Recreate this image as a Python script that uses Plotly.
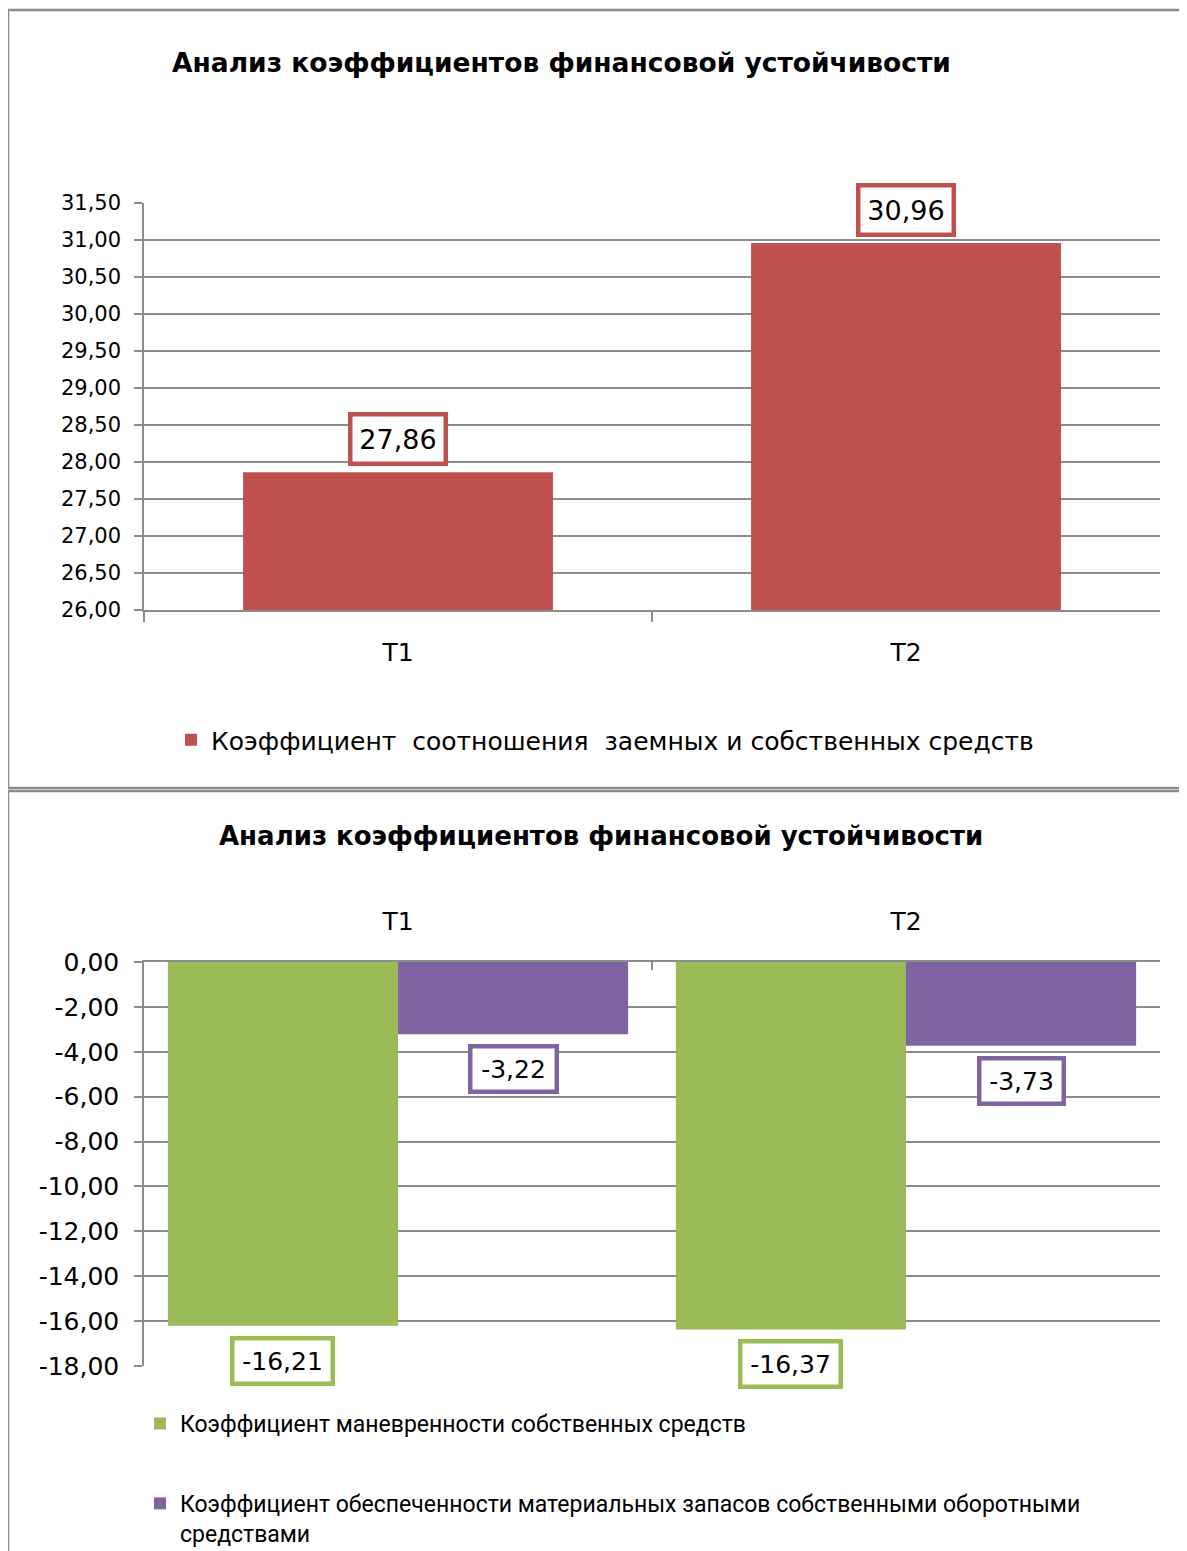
import plotly.graph_objects as go

W, H = 1187, 1551

# ── Data ──────────────────────────────────────────────────────────────────────
CATEGORIES = ["Т1", "Т2"]

TITLE = "Анализ коэффициентов финансовой устойчивости"

TOP_NAME = "Коэффициент\u00a0 соотношения\u00a0 заемных и собственных средств"
TOP_VALUES = [27.86, 30.96]
TOP_TICKVALS = [26.0, 26.5, 27.0, 27.5, 28.0, 28.5, 29.0, 29.5, 30.0, 30.5, 31.0, 31.5]
TOP_TICKTEXT = ["26,00", "26,50", "27,00", "27,50", "28,00", "28,50",
                "29,00", "29,50", "30,00", "30,50", "31,00", "31,50"]

BOT_NAME_1 = "Коэффициент маневренности собственных средств"
BOT_VALUES_1 = [-16.21, -16.37]
BOT_NAME_2 = ("Коэффициент обеспеченности материальных запасов собственными оборотными"
              "<br>средствами")
BOT_VALUES_2 = [-3.22, -3.73]
BOT_TICKVALS = [0, -2, -4, -6, -8, -10, -12, -14, -16, -18]
BOT_TICKTEXT = ["0,00", "-2,00", "-4,00", "-6,00", "-8,00", "-10,00",
                "-12,00", "-14,00", "-16,00", "-18,00"]

# ── Colours ───────────────────────────────────────────────────────────────────
C_RED = "#C0504D"
C_GREEN = "#9BBB59"
C_PURPLE = "#8064A2"
C_GRID = "#8C8C8C"
C_FRAME = "#8C8C8C"
FONT = "DejaVu Sans"

OFF = 8  # page body margin


def fmt(v):
    return f"{v:.2f}".replace(".", ",")


def px(x):
    return (x - OFF) / W


def py(y):
    return 1 - (y - OFF) / H


PLOT_L, PLOT_R = 144, 1160
BOT_GAP = 0.094
bar_px = (PLOT_R - PLOT_L) / 2 * (1 - BOT_GAP) / 2

fig = go.Figure()

fig.add_trace(go.Bar(
    x=CATEGORIES, y=TOP_VALUES, name=TOP_NAME, width=0.61,
    marker=dict(color=C_RED, line_width=0),
    xaxis="x", yaxis="y", legend="legend", showlegend=True,
))
fig.add_trace(go.Bar(
    x=CATEGORIES, y=BOT_VALUES_1, name=BOT_NAME_1,
    marker=dict(color=C_GREEN, line_width=0),
    xaxis="x2", yaxis="y2", legend="legend2", legendgroup="a", showlegend=True,
))
fig.add_trace(go.Bar(
    x=CATEGORIES, y=BOT_VALUES_2, name=BOT_NAME_2,
    marker=dict(color=C_PURPLE, line_width=0),
    xaxis="x2", yaxis="y2", legend="legend2", legendgroup="b", showlegend=True,
))

ann = []
# titles
ann.append(dict(text="<b>" + TITLE + "</b>", xref="paper", yref="paper",
                x=px(561), y=py(62), xanchor="center", yanchor="middle",
                showarrow=False, font=dict(family=FONT, size=26.5, color="black")))
ann.append(dict(text="<b>" + TITLE + "</b>", xref="paper", yref="paper",
                x=px(601), y=py(836), xanchor="center", yanchor="middle",
                showarrow=False, font=dict(family=FONT, size=26, color="black")))

# data labels, top chart
for c, v in zip(CATEGORIES, TOP_VALUES):
    ann.append(dict(text=fmt(v), x=c, y=v, xref="x", yref="y",
                    yanchor="bottom", yshift=6, showarrow=False, width=77,
                    font=dict(family=FONT, size=27, color="black"),
                    bgcolor="white", bordercolor=C_RED, borderwidth=4.5, borderpad=7))

# data labels, bottom chart
for vals, color, sign, widths in [(BOT_VALUES_1, C_GREEN, -1, [84, 84]),
                                  (BOT_VALUES_2, C_PURPLE, 1, [70, 68])]:
    for c, v, w in zip(CATEGORIES, vals, widths):
        ann.append(dict(text=fmt(v), x=c, y=v, xref="x2", yref="y2",
                        xshift=sign * bar_px / 2, yanchor="top", yshift=-10,
                        showarrow=False, width=w,
                        font=dict(family=FONT, size=25, color="black"),
                        bgcolor="white", bordercolor=color, borderwidth=4.5, borderpad=6))

shapes = [
    dict(type="rect", xref="paper", yref="paper",
         x0=px(8), x1=px(1210), y0=py(10), y1=py(788),
         line=dict(color=C_FRAME, width=2.5), layer="below"),
    dict(type="rect", xref="paper", yref="paper",
         x0=px(8), x1=px(1210), y0=py(791), y1=py(1580),
         line=dict(color=C_FRAME, width=2.5), layer="below"),
]

axis_common = dict(showline=True, linecolor=C_GRID, linewidth=1.5,
                   tickcolor=C_GRID, tickwidth=1.5)

fig.update_layout(
    width=W, height=H,
    margin=dict(l=0, r=0, t=0, b=0, autoexpand=False),
    paper_bgcolor="white", plot_bgcolor="white",
    barmode="group", bargap=BOT_GAP, bargroupgap=0,
    showlegend=True,
    annotations=ann, shapes=shapes,
    font=dict(family=FONT, color="black"),
    xaxis=dict(domain=[px(PLOT_L), px(PLOT_R)], anchor="y", type="category",
               categoryorder="array", categoryarray=CATEGORIES,
               ticks="outside", tickson="boundaries", ticklen=10,
               tickfont=dict(size=25), ticklabelstandoff=19, **axis_common),
    yaxis=dict(domain=[py(610), py(203)], anchor="x", range=[26, 31.5],
               tickvals=TOP_TICKVALS, ticktext=TOP_TICKTEXT,
               showgrid=True, gridcolor=C_GRID, gridwidth=1.5, zeroline=False,
               ticks="outside", ticklen=8, tickfont=dict(size=21),
               ticklabelstandoff=9, **axis_common),
    xaxis2=dict(domain=[px(PLOT_L), px(PLOT_R)], anchor="y2", type="category",
                categoryorder="array", categoryarray=CATEGORIES, side="top",
                ticks="inside", tickson="boundaries", ticklen=8,
                tickfont=dict(size=25), ticklabelstandoff=20, **axis_common),
    yaxis2=dict(domain=[py(1366), py(962)], anchor="x2", range=[-18, 0],
                tickvals=BOT_TICKVALS, ticktext=BOT_TICKTEXT,
                showgrid=True, gridcolor=C_GRID, gridwidth=1.5, zeroline=False,
                ticks="outside", ticklen=8, tickfont=dict(size=25),
                ticklabelstandoff=10, **axis_common),
    legend=dict(orientation="h", x=px(605), xanchor="center", y=py(740),
                yanchor="middle", font=dict(family=FONT, size=25),
                bgcolor="rgba(0,0,0,0)"),
    legend2=dict(orientation="v", x=px(140), xanchor="left", y=py(1402),
                 yanchor="top", valign="top", tracegroupgap=47,
                 font=dict(family="Roboto", size=23), bgcolor="rgba(0,0,0,0)"),
)

fig.write_html("out.html")
